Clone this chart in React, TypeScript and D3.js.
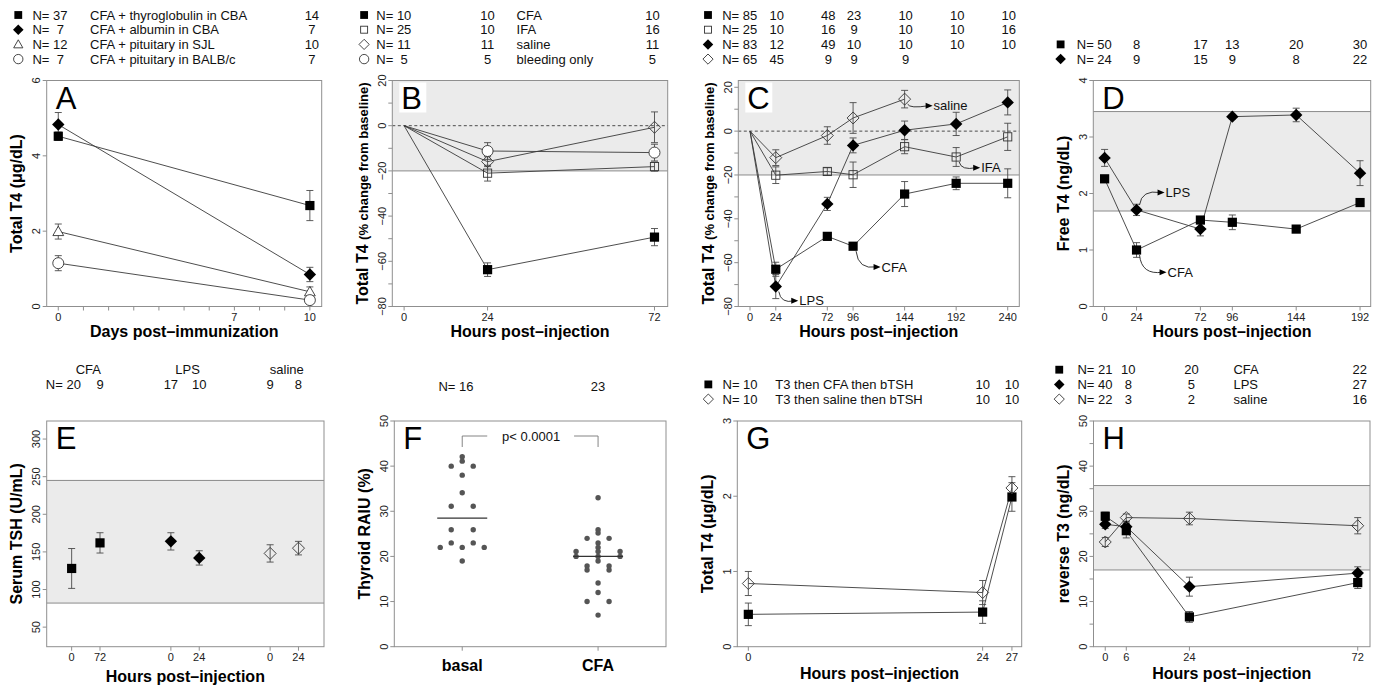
import React from "react";
import * as d3 from "d3";

const W = 1382;
const H = 688;
const FONT = "'Liberation Sans', Arial, Helvetica, sans-serif";
const FRAME = "#8f8f8f";
const SHADE = "#ebebeb";
const SHADE_LINE = "#8a8a8a";
const LINE = "#3a3a3a";
const ERR = "#4a4a4a";
const INK = "#111";

// ---------------- Panel A ----------------
const aDays = [0, 10];
const aThyroglobulin = [4.52, 2.68];
const aThyroglobulinErr = [0.11, 0.4];
const aAlbumin = [4.83, 0.85];
const aAlbuminErr = [0.32, 0.19];
const aPitSJL = [1.99, 0.39];
const aPitSJLErr = [0.2, 0.13];
const aPitBALB = [1.15, 0.17];
const aPitBALBErr = [0.2, 0.05];
const aLabels = ["CFA + thyroglobulin in CBA", "CFA + albumin in CBA", "CFA + pituitary in SJL", "CFA + pituitary in BALB/c"];
const aCounts = [[37, 14], [7, 7], [12, 10], [7, 7]];
const aXTicks = [0, 1, 2, 3, 4, 5, 6, 7, 8, 9, 10];
const aXTickLabels = [0, 7, 10];
const aYTicks = [0, 2, 4, 6];

// ---------------- Panel B ----------------
const bHours = [24, 72];
const bXTicks = [0, 24, 72];
const bCFA = [-63.7, -49.3];
const bCFAErr = [3.0, 3.8];
const bIFA = [-21.0, -18.1];
const bIFAErr = [3.5, 2.0];
const bSaline = [-15.9, -0.7];
const bSalineErr = [2.2, 6.8];
const bBleeding = [-11.2, -11.9];
const bBleedingErr = [3.7, 3.7];
const bLabels = ["CFA", "IFA", "saline", "bleeding only"];
const bCounts = [[10, 10, 10], [25, 10, 16], [11, 11, 11], [5, 5, 5]];
const bYTicks = [-80, -70, -60, -50, -40, -30, -20, -10, 0, 10, 20];

// ---------------- Panel C ----------------
const cHours = [24, 72, 96, 144, 192, 240];
const cXTicks = [0, 24, 72, 96, 144, 192, 240];
const cCFA = [-63.0, -48.0, -52.5, -28.7, -23.8, -23.8];
const cCFAErr = [3.2, 1.5, 1.5, 5.7, 2.9, 6.6];
const cIFA = [-20.1, -18.4, -19.9, -7.1, -11.8, -2.6];
const cIFAErr = [3.8, 1.7, 5.8, 3.2, 4.3, 6.2];
const cLPS = [-70.9, -33.2, -6.5, 0.4, 3.3, 13.1];
const cLPSErr = [5.5, 3.0, 3.4, 4.2, 5.3, 5.7];
const cSalineHours = [24, 72, 96, 144];
const cSaline = [-12.1, -2.0, 6.0, 14.6];
const cSalineErr = [3.6, 4.0, 7.0, 4.0];
const cCounts = [
  [85, 10, 48, 23, 10, 10, 10],
  [25, 10, 16, 9, 10, 10, 16],
  [83, 12, 49, 10, 10, 10, 10],
  [65, 45, 9, 9, 9],
];
const cYTicks = [-80, -70, -60, -50, -40, -30, -20, -10, 0, 10, 20];

// ---------------- Panel D ----------------
const dHours = [0, 24, 72, 96, 144, 192];
const dCFA = [2.26, 1.0, 1.53, 1.49, 1.37, 1.84];
const dCFAErr = [0.04, 0.13, 0.06, 0.13, 0.05, 0.07];
const dLPS = [2.63, 1.71, 1.37, 3.36, 3.39, 2.36];
const dLPSErr = [0.15, 0.1, 0.12, 0.04, 0.12, 0.22];
const dCounts = [[50, 8, 17, 13, 20, 30], [24, 9, 15, 9, 8, 22]];
const dNormalRange = [1.69, 3.45];
const dYTicks = [0, 1, 2, 3, 4];

// ---------------- Panel E ----------------
const eGroups = ["CFA", "LPS", "saline"];
const eTickLabels = ["0", "72", "0", "24", "0", "24"];
const eTSH = [128, 162, 164, 142, 148, 155];
const eTSHErr = [26.5, 13.5, 11.5, 9.5, 11.5, 9];
const eCounts = [20, 9, 17, 10, 9, 8];
const eNormalRange = [82, 245];
const eYTicks = [50, 100, 150, 200, 250, 300];

// ---------------- Panel F ----------------
const fGroups = ["basal", "CFA"];
const fBasal = [42.1, 41.1, 40, 40, 38, 34.1, 31.1, 31.1, 25.9, 25.9, 23, 23, 22, 22, 22, 19];
const fCFA = [33, 25.9, 25.2, 24, 24, 23, 22, 21.1, 21.1, 21.1, 20, 20, 20, 19, 17.9, 17.9, 17, 17, 14.1, 12, 10, 10, 7];
const fCounts = [16, 23];
const fPText = "p< 0.0001";
const fYTicks = [0, 10, 20, 30, 40, 50];

// ---------------- Panel G ----------------
const gHours = [0, 24, 27];
const gCFA = [0.43, 0.46, 1.99];
const gCFAErr = [0.15, 0.15, 0.19];
const gSaline = [0.84, 0.72, 2.11];
const gSalineErr = [0.16, 0.16, 0.15];
const gLabels = ["T3 then CFA then bTSH", "T3 then saline then bTSH"];
const gCounts = [[10, 10, 10], [10, 10, 10]];
const gYTicks = [0, 1, 2, 3];

// ---------------- Panel H ----------------
const hHours = [0, 6, 24, 72];
const hCFA = [28.9, 25.7, 6.6, 14.2];
const hCFAErr = [0.9, 1.6, 1.2, 1.3];
const hLPS = [27.1, 26.6, 13.3, 16.3];
const hLPSErr = [0.9, 1.0, 2.1, 1.4];
const hSaline = [23.2, 28.6, 28.4, 26.8];
const hSalineErr = [1.0, 0.8, 1.4, 1.8];
const hLabels = ["CFA", "LPS", "saline"];
const hCounts = [[21, 10, 20, 22], [40, 8, 5, 27], [22, 3, 2, 16]];
const hNormalRange = [17.0, 35.7];
const hYTicks = [0, 5, 10, 15, 20, 25, 30, 35, 40, 45, 50];

// =====================================================
type Box = { l: number; r: number; t: number; b: number };
type MarkerType = "sq" | "osq" | "dia" | "odia" | "otri" | "ocirc";
type Series = { marker: MarkerType; xs: number[]; ys: number[]; errs: number[]; fromOrigin?: boolean; noLine?: boolean };
type Lin = d3.ScaleLinear<number, number>;

const boxA: Box = { l: 46.7, r: 321.7, t: 80.5, b: 306.5 };
const boxB: Box = { l: 392.3, r: 667.7, t: 80.5, b: 306.5 };
const boxC: Box = { l: 738.3, r: 1019.3, t: 80.5, b: 306.5 };
const boxD: Box = { l: 1093.3, r: 1370.7, t: 80.5, b: 306.5 };
const boxE: Box = { l: 46.7, r: 324, t: 421, b: 646.7 };
const boxF: Box = { l: 394.3, r: 666, t: 421, b: 646.7 };
const boxG: Box = { l: 737.3, r: 1021.7, t: 421, b: 646.7 };
const boxH: Box = { l: 1093.5, r: 1370, t: 421, b: 646.7 };

const fmt = (v: number) => (v < 0 ? "\u2212" + Math.abs(v) : String(v));

function Marker({ type, x, y, k = 1 }: { type: MarkerType; x: number; y: number; k?: number }) {
  const sw = 0.9;
  switch (type) {
    case "sq": {
      const h = 4.6 * k;
      return <rect x={x - h} y={y - h} width={2 * h} height={2 * h} fill="#000" />;
    }
    case "osq": {
      const h = 4.1 * k;
      return <rect x={x - h} y={y - h} width={2 * h} height={2 * h} fill="none" stroke="#333" strokeWidth={sw} />;
    }
    case "dia": {
      const h = 6.2 * k;
      return <path d={`M${x},${y - h}L${x + h},${y}L${x},${y + h}L${x - h},${y}Z`} fill="#000" />;
    }
    case "odia": {
      const h = 6 * k;
      return <path d={`M${x},${y - h}L${x + h},${y}L${x},${y + h}L${x - h},${y}Z`} fill="none" stroke="#333" strokeWidth={sw} />;
    }
    case "otri": {
      const h = 5.4 * k;
      return <path d={`M${x},${y - h}L${x + h},${y + h * 0.75}L${x - h},${y + h * 0.75}Z`} fill="#fff" stroke="#333" strokeWidth={sw} />;
    }
    case "ocirc":
    default: {
      return <circle cx={x} cy={y} r={5.5 * k} fill="#fff" stroke="#333" strokeWidth={sw} />;
    }
  }
}

function Frame({ box }: { box: Box }) {
  return <rect x={box.l} y={box.t} width={box.r - box.l} height={box.b - box.t} fill="none" stroke={FRAME} strokeWidth={1} />;
}

function ShadeBand({ box, y, lo, hi, lines }: { box: Box; y: Lin; lo: number; hi?: number; lines: number[] }) {
  const top = hi === undefined ? box.t : y(hi);
  const bot = y(lo);
  return (
    <g>
      <rect x={box.l} y={top} width={box.r - box.l} height={bot - top} fill={SHADE} />
      {lines.map((v) => (
        <line key={v} x1={box.l} x2={box.r} y1={y(v)} y2={y(v)} stroke={SHADE_LINE} strokeWidth={1} />
      ))}
    </g>
  );
}

function YAxis({ box, y, ticks, labeled }: { box: Box; y: Lin; ticks: number[]; labeled: (v: number) => boolean }) {
  return (
    <g>
      {ticks.map((v) => (
        <g key={v}>
          <line x1={box.l - 4} x2={box.l} y1={y(v)} y2={y(v)} stroke={FRAME} />
          {labeled(v) && (
            <text transform={`translate(${box.l - 6.5},${y(v)}) rotate(-90)`} textAnchor="middle" fontSize={11} fill="#222">
              {fmt(v)}
            </text>
          )}
        </g>
      ))}
    </g>
  );
}

function XAxis({ box, x, ticks, labels }: { box: Box; x: (v: number) => number; ticks: number[]; labels: (v: number, i: number) => string | null }) {
  return (
    <g>
      {ticks.map((v, i) => {
        const lab = labels(v, i);
        return (
          <g key={i}>
            <line x1={x(v)} x2={x(v)} y1={box.b} y2={box.b + 4} stroke={FRAME} />
            {lab !== null && (
              <text x={x(v)} y={box.b + 14} textAnchor="middle" fontSize={11} fill="#222">
                {lab}
              </text>
            )}
          </g>
        );
      })}
    </g>
  );
}

function Letter({ box, ch, bg }: { box: Box; ch: string; bg?: boolean }) {
  return (
    <g>
      {bg && <rect x={box.l + 7} y={box.t + 2} width={27} height={30} fill="#fff" />}
      <text x={box.l + 9} y={box.t + 28} fontSize={31} fill="#000">
        {ch}
      </text>
    </g>
  );
}

function YTitle({ box, children }: { box: Box; children: React.ReactNode }) {
  return (
    <text
      transform={`translate(${box.l - 24.5},${(box.t + box.b) / 2}) rotate(-90)`}
      textAnchor="middle"
      fontWeight="bold"
      fontSize={16}
      fill="#000"
    >
      {children}
    </text>
  );
}

function XTitle({ box, text, dy = 30 }: { box: Box; text: string; dy?: number }) {
  return (
    <text x={(box.l + box.r) / 2} y={box.b + dy} textAnchor="middle" fontWeight="bold" fontSize={16} fill="#000">
      {text}
    </text>
  );
}

function Plot({ x, y, series }: { x: Lin; y: Lin; series: Series[] }) {
  const gen = d3.line<[number, number]>();
  return (
    <g>
      {series.map((s, si) => {
        if (s.noLine) return null;
        const pts: [number, number][] = s.xs.map((h, i) => [x(h), y(s.ys[i])]);
        const all: [number, number][] = s.fromOrigin ? [[x(0), y(0)], ...pts] : pts;
        return <path key={"l" + si} d={gen(all) || ""} fill="none" stroke={LINE} strokeWidth={0.9} />;
      })}
      {series.map((s, si) =>
        s.errs.map((e, i) => {
          if (!(e > 0)) return null;
          const px = x(s.xs[i]);
          const y1 = y(s.ys[i] + e);
          const y2 = y(s.ys[i] - e);
          return (
            <g key={"e" + si + "-" + i} stroke={ERR} strokeWidth={0.9}>
              <line x1={px} x2={px} y1={y1} y2={y2} />
              <line x1={px - 3.5} x2={px + 3.5} y1={y1} y2={y1} />
              <line x1={px - 3.5} x2={px + 3.5} y1={y2} y2={y2} />
            </g>
          );
        })
      )}
      {series.map((s, si) =>
        s.xs.map((h, i) => <Marker key={"m" + si + "-" + i} type={s.marker} x={x(h)} y={y(s.ys[i])} />)
      )}
    </g>
  );
}

const rowY = (base: number, i: number) => base + 15 + 14.7 * i + 4.5;

function Count({ x, y, n, prefix }: { x: number; y: number; n: number; prefix?: boolean }) {
  return (
    <g fontSize={13} fill={INK}>
      {prefix && (
        <text x={x - 10.8} y={y} textAnchor="end">
          N=
        </text>
      )}
      <text x={x} y={y} textAnchor="middle">
        {n}
      </text>
    </g>
  );
}

function Callout({ px, py, dx, dy, text }: { px: number; py: number; dx: number; dy: number; text: string }) {
  const sx = px + 3;
  const sy = py + (dy > 0 ? 5 : -5);
  const ex = px + dx;
  const ey = py + dy;
  const d = `M${sx},${sy} Q${sx + 2},${ey + (dy > 0 ? 3 : -3)} ${ex - 4},${ey}`;
  return (
    <g>
      <path d={d} fill="none" stroke="#222" strokeWidth={0.9} />
      <path d={`M${ex},${ey}L${ex - 7},${ey - 3}L${ex - 7},${ey + 3}Z`} fill="#000" />
      <text x={ex + 1} y={ey + 4.6} fontSize={13} fill={INK}>
        {text}
      </text>
    </g>
  );
}

// ---------------- Panels ----------------
function PanelA() {
  const x = d3.scaleLinear().domain([-0.46, 10.47]).range([boxA.l, boxA.r]);
  const y = d3.scaleLinear().domain([0, 6]).range([boxA.b, boxA.t]);
  const series: Series[] = [
    { marker: "sq", xs: aDays, ys: aThyroglobulin, errs: aThyroglobulinErr },
    { marker: "dia", xs: aDays, ys: aAlbumin, errs: aAlbuminErr },
    { marker: "otri", xs: aDays, ys: aPitSJL, errs: aPitSJLErr },
    { marker: "ocirc", xs: aDays, ys: aPitBALB, errs: aPitBALBErr },
  ];
  return (
    <g>
      <Frame box={boxA} />
      <YAxis box={boxA} y={y} ticks={aYTicks} labeled={() => true} />
      <XAxis box={boxA} x={x} ticks={aXTicks} labels={(v) => (aXTickLabels.includes(v) ? String(v) : null)} />
      <Plot x={x} y={y} series={series} />
      <Letter box={boxA} ch="A" />
      <YTitle box={boxA}>Total T4 (μg/dL)</YTitle>
      <XTitle box={boxA} text="Days post–immunization" />
      {series.map((s, i) => (
        <g key={i}>
          <Marker type={s.marker} x={x(0) - 40} y={rowY(0, i) - 4.5} k={0.85} />
          <Count x={x(0) + 2} y={rowY(0, i)} n={aCounts[i][0]} prefix />
          <text x={90} y={rowY(0, i)} fontSize={13} fill={INK}>
            {aLabels[i]}
          </text>
          <Count x={x(10) + 2} y={rowY(0, i)} n={aCounts[i][1]} />
        </g>
      ))}
    </g>
  );
}

function PanelB() {
  const x = d3.scaleLinear().domain([-3.4, 75.8]).range([boxB.l, boxB.r]);
  const y = d3.scaleLinear().domain([-80, 20]).range([boxB.b, boxB.t]);
  const series: Series[] = [
    { marker: "sq", xs: bHours, ys: bCFA, errs: bCFAErr, fromOrigin: true },
    { marker: "osq", xs: bHours, ys: bIFA, errs: bIFAErr, fromOrigin: true },
    { marker: "odia", xs: bHours, ys: bSaline, errs: bSalineErr, fromOrigin: true },
    { marker: "ocirc", xs: bHours, ys: bBleeding, errs: bBleedingErr, fromOrigin: true },
  ];
  return (
    <g>
      <ShadeBand box={boxB} y={y} lo={-20} lines={[-20]} />
      <line x1={boxB.l} x2={boxB.r} y1={y(0)} y2={y(0)} stroke="#222" strokeWidth={0.8} strokeDasharray="3,2.5" />
      <Frame box={boxB} />
      <YAxis box={boxB} y={y} ticks={bYTicks} labeled={(v) => v % 20 === 0} />
      <XAxis box={boxB} x={x} ticks={bXTicks} labels={(v) => String(v)} />
      <Plot x={x} y={y} series={series} />
      <Letter box={boxB} ch="B" bg />
      <YTitle box={boxB}>
        <tspan>Total T4 </tspan>
        <tspan fontSize={13}>(% change from baseline)</tspan>
      </YTitle>
      <XTitle box={boxB} text="Hours post–injection" />
      {series.map((s, i) => (
        <g key={i}>
          <Marker type={s.marker} x={x(0) - 40} y={rowY(0, i) - 4.5} k={0.85} />
          <Count x={x(0)} y={rowY(0, i)} n={bCounts[i][0]} prefix />
          <Count x={x(24)} y={rowY(0, i)} n={bCounts[i][1]} />
          <text x={x(24) + 29} y={rowY(0, i)} fontSize={13} fill={INK}>
            {bLabels[i]}
          </text>
          <Count x={x(72) - 2} y={rowY(0, i)} n={bCounts[i][2]} />
        </g>
      ))}
    </g>
  );
}

function PanelC() {
  const x = d3.scaleLinear().domain([-10.9, 250.8]).range([boxC.l, boxC.r]);
  const y = d3.scaleLinear().domain([-80, 23.1]).range([boxC.b, boxC.t]);
  const series: Series[] = [
    { marker: "sq", xs: cHours, ys: cCFA, errs: cCFAErr, fromOrigin: true },
    { marker: "osq", xs: cHours, ys: cIFA, errs: cIFAErr, fromOrigin: true },
    { marker: "dia", xs: cHours, ys: cLPS, errs: cLPSErr, fromOrigin: true },
    { marker: "odia", xs: cSalineHours, ys: cSaline, errs: cSalineErr, fromOrigin: true },
  ];
  return (
    <g>
      <ShadeBand box={boxC} y={y} lo={-20} lines={[-20]} />
      <line x1={boxC.l} x2={boxC.r} y1={y(0)} y2={y(0)} stroke="#222" strokeWidth={0.8} strokeDasharray="3,2.5" />
      <Frame box={boxC} />
      <YAxis box={boxC} y={y} ticks={cYTicks} labeled={(v) => v % 20 === 0} />
      <XAxis box={boxC} x={x} ticks={cXTicks} labels={(v) => String(v)} />
      <Plot x={x} y={y} series={series} />
      <Callout px={x(144)} py={y(cSaline[3])} dx={28} dy={6.6} text="saline" />
      <Callout px={x(192)} py={y(cIFA[4])} dx={24} dy={10.7} text="IFA" />
      <Callout px={x(96)} py={y(cCFA[2])} dx={27.5} dy={20.7} text="CFA" />
      <Callout px={x(24)} py={y(cLPS[0])} dx={22.5} dy={14.3} text="LPS" />
      <Letter box={boxC} ch="C" bg />
      <YTitle box={boxC}>
        <tspan>Total T4 </tspan>
        <tspan fontSize={13}>(% change from baseline)</tspan>
      </YTitle>
      <XTitle box={boxC} text="Hours post–injection" />
      {series.map((s, i) => (
        <g key={i}>
          <Marker type={s.marker} x={x(0) - 42} y={rowY(0, i) - 4.5} k={0.85} />
          {cCounts[i].map((n, j) => (
            <Count key={j} x={x(cXTicks[j]) + (j === 0 ? 0 : 1)} y={rowY(0, i)} n={n} prefix={j === 0} />
          ))}
        </g>
      ))}
    </g>
  );
}

function PanelD() {
  const x = d3.scaleLinear().domain([-8.5, 200]).range([boxD.l, boxD.r]);
  const y = d3.scaleLinear().domain([0, 4]).range([boxD.b, boxD.t]);
  const series: Series[] = [
    { marker: "sq", xs: dHours, ys: dCFA, errs: dCFAErr },
    { marker: "dia", xs: dHours, ys: dLPS, errs: dLPSErr },
  ];
  return (
    <g>
      <ShadeBand box={boxD} y={y} lo={dNormalRange[0]} hi={dNormalRange[1]} lines={dNormalRange} />
      <Frame box={boxD} />
      <YAxis box={boxD} y={y} ticks={dYTicks} labeled={() => true} />
      <XAxis box={boxD} x={x} ticks={dHours} labels={(v) => String(v)} />
      <Plot x={x} y={y} series={series} />
      <Callout px={x(24)} py={y(dLPS[1])} dx={28} dy={-17.4} text="LPS" />
      <Callout px={x(24)} py={y(dCFA[1])} dx={30} dy={22.2} text="CFA" />
      <Letter box={boxD} ch="D" />
      <YTitle box={boxD}>Free T4 (ng/dL)</YTitle>
      <XTitle box={boxD} text="Hours post–injection" />
      {series.map((s, i) => (
        <g key={i}>
          <Marker type={s.marker} x={x(0) - 44} y={rowY(0, i + 2) - 4.5} k={0.85} />
          {dCounts[i].map((n, j) => (
            <Count key={j} x={x(dHours[j])} y={rowY(0, i + 2)} n={n} prefix={j === 0} />
          ))}
        </g>
      ))}
    </g>
  );
}

function PanelE() {
  const pos = eTSH.map((_, i) => Math.floor(i / 2) * 3.5 + (i % 2));
  const markers: MarkerType[] = ["sq", "dia", "odia"];
  const x = d3.scaleLinear().domain([-0.88, 8.9]).range([boxE.l, boxE.r]);
  const y = d3.scaleLinear().domain([24, 324]).range([boxE.b, boxE.t]);
  const series: Series[] = eGroups.map((_, g) => ({
    marker: markers[g],
    xs: [pos[2 * g], pos[2 * g + 1]],
    ys: [eTSH[2 * g], eTSH[2 * g + 1]],
    errs: [eTSHErr[2 * g], eTSHErr[2 * g + 1]],
    noLine: true,
  }));
  return (
    <g>
      <ShadeBand box={boxE} y={y} lo={eNormalRange[0]} hi={eNormalRange[1]} lines={eNormalRange} />
      <Frame box={boxE} />
      <YAxis box={boxE} y={y} ticks={eYTicks} labeled={() => true} />
      <XAxis box={boxE} x={x} ticks={pos} labels={(_, i) => eTickLabels[i]} />
      <Plot x={x} y={y} series={series} />
      <Letter box={boxE} ch="E" />
      <YTitle box={boxE}>Serum TSH (U/mL)</YTitle>
      <XTitle box={boxE} text="Hours post–injection" dy={35} />
      {eGroups.map((g, i) => (
        <text key={g} x={(x(pos[2 * i]) + x(pos[2 * i + 1])) / 2 + 2.5} y={rowY(340, 1)} textAnchor="middle" fontSize={13} fill={INK}>
          {g}
        </text>
      ))}
      {eCounts.map((n, i) => (
        <Count key={i} x={x(pos[i]) + (i === 0 ? 2 : 0)} y={rowY(340, 2)} n={n} prefix={i === 0} />
      ))}
    </g>
  );
}

function swarmOffsets(values: number[]) {
  const off = new Array(values.length).fill(0);
  const groups = d3.group(
    values.map((v, i) => ({ v, i })),
    (d) => Math.round(d.v)
  );
  groups.forEach((g) => g.forEach((d, j) => (off[d.i] = j - (g.length - 1) / 2)));
  return off;
}

function PanelF() {
  const x = d3.scalePoint<string>().domain(fGroups).range([boxF.l, boxF.r]).padding(0.5);
  const y = d3.scaleLinear().domain([0, 50]).range([boxF.b, boxF.t]);
  const sets = [fBasal, fCFA];
  const xb = x("basal") as number;
  const xc = x("CFA") as number;
  const by = boxF.t + 15;
  return (
    <g>
      <Frame box={boxF} />
      <YAxis box={boxF} y={y} ticks={fYTicks} labeled={() => true} />
      {fGroups.map((g) => (
        <g key={g}>
          <line x1={x(g) as number} x2={x(g) as number} y1={boxF.b} y2={boxF.b + 4} stroke={FRAME} />
          <text x={x(g) as number} y={boxF.b + 24} textAnchor="middle" fontWeight="bold" fontSize={16} fill="#000">
            {g}
          </text>
        </g>
      ))}
      {sets.map((vals, si) => {
        const cx = x(fGroups[si]) as number;
        const off = swarmOffsets(vals);
        const med = d3.median(vals) as number;
        return (
          <g key={si}>
            {vals.map((v, i) => (
              <circle key={i} cx={cx + off[i] * 22} cy={y(v)} r={2.7} fill="#555" />
            ))}
            <line x1={cx - 25} x2={cx + 25} y1={y(med)} y2={y(med)} stroke="#333" strokeWidth={1.2} />
          </g>
        );
      })}
      <g stroke="#777" strokeWidth={0.9} fill="none">
        <path d={`M${xb},${by + 11}L${xb},${by}L${xb + 25},${by}`} />
        <path d={`M${xc - 24},${by}L${xc},${by}L${xc},${by + 11}`} />
      </g>
      <text x={(xb + xc) / 2 + 1} y={by + 4.5} textAnchor="middle" fontSize={13} fill={INK}>
        {fPText}
      </text>
      <Letter box={boxF} ch="F" />
      <YTitle box={boxF}>Thyroid RAIU (%)</YTitle>
      {fCounts.map((n, i) => (
        <Count key={i} x={(x(fGroups[i]) as number) + (i === 0 ? 4 : 0)} y={rowY(340, 2) + 2} n={n} prefix={i === 0} />
      ))}
    </g>
  );
}

function PanelG() {
  const x = d3.scaleLinear().domain([-1.13, 28.0]).range([boxG.l, boxG.r]);
  const y = d3.scaleLinear().domain([0, 3]).range([boxG.b, boxG.t]);
  const series: Series[] = [
    { marker: "sq", xs: gHours, ys: gCFA, errs: gCFAErr },
    { marker: "odia", xs: gHours, ys: gSaline, errs: gSalineErr },
  ];
  return (
    <g>
      <Frame box={boxG} />
      <YAxis box={boxG} y={y} ticks={gYTicks} labeled={() => true} />
      <XAxis box={boxG} x={x} ticks={gHours} labels={(v) => String(v)} />
      <Plot x={x} y={y} series={series} />
      <Letter box={boxG} ch="G" />
      <YTitle box={boxG}>Total T4 (μg/dL)</YTitle>
      <XTitle box={boxG} text="Hours post–injection" dy={32} />
      {series.map((s, i) => (
        <g key={i}>
          <Marker type={s.marker} x={x(0) - 40} y={rowY(340, i + 2) - 4.5} k={0.85} />
          <Count x={x(0) + 2} y={rowY(340, i + 2)} n={gCounts[i][0]} prefix />
          <text x={x(0) + 27} y={rowY(340, i + 2)} fontSize={13} fill={INK}>
            {gLabels[i]}
          </text>
          <Count x={x(24)} y={rowY(340, i + 2)} n={gCounts[i][1]} />
          <Count x={x(27)} y={rowY(340, i + 2)} n={gCounts[i][2]} />
        </g>
      ))}
    </g>
  );
}

function PanelH() {
  const x = d3.scaleLinear().domain([-3.35, 75.5]).range([boxH.l, boxH.r]);
  const y = d3.scaleLinear().domain([0, 50]).range([boxH.b, boxH.t]);
  const series: Series[] = [
    { marker: "sq", xs: hHours, ys: hCFA, errs: hCFAErr },
    { marker: "dia", xs: hHours, ys: hLPS, errs: hLPSErr },
    { marker: "odia", xs: hHours, ys: hSaline, errs: hSalineErr },
  ];
  return (
    <g>
      <ShadeBand box={boxH} y={y} lo={hNormalRange[0]} hi={hNormalRange[1]} lines={hNormalRange} />
      <Frame box={boxH} />
      <YAxis box={boxH} y={y} ticks={hYTicks} labeled={(v) => v % 10 === 0} />
      <XAxis box={boxH} x={x} ticks={hHours} labels={(v) => String(v)} />
      <Plot x={x} y={y} series={series} />
      <Letter box={boxH} ch="H" />
      <YTitle box={boxH}>reverse T3 (ng/dL)</YTitle>
      <XTitle box={boxH} text="Hours post–injection" dy={32} />
      {series.map((s, i) => (
        <g key={i}>
          <Marker type={s.marker} x={x(0) - 46} y={rowY(340, i + 1) - 4.5} k={0.85} />
          <Count x={x(0)} y={rowY(340, i + 1)} n={hCounts[i][0]} prefix />
          <Count x={x(6) + 2} y={rowY(340, i + 1)} n={hCounts[i][1]} />
          <Count x={x(24) + 2} y={rowY(340, i + 1)} n={hCounts[i][2]} />
          <text x={x(24) + 44} y={rowY(340, i + 1)} fontSize={13} fill={INK}>
            {hLabels[i]}
          </text>
          <Count x={x(72) + 2} y={rowY(340, i + 1)} n={hCounts[i][3]} />
        </g>
      ))}
    </g>
  );
}

export default function App() {
  return (
    <svg
      width={W}
      height={H}
      viewBox={`0 0 ${W} ${H}`}
      style={{ position: "absolute", left: 0, top: 0, display: "block", background: "#fff" }}
      fontFamily={FONT}
    >
      <rect x={0} y={0} width={W} height={H} fill="#fff" />
      <PanelA />
      <PanelB />
      <PanelC />
      <PanelD />
      <PanelE />
      <PanelF />
      <PanelG />
      <PanelH />
    </svg>
  );
}
